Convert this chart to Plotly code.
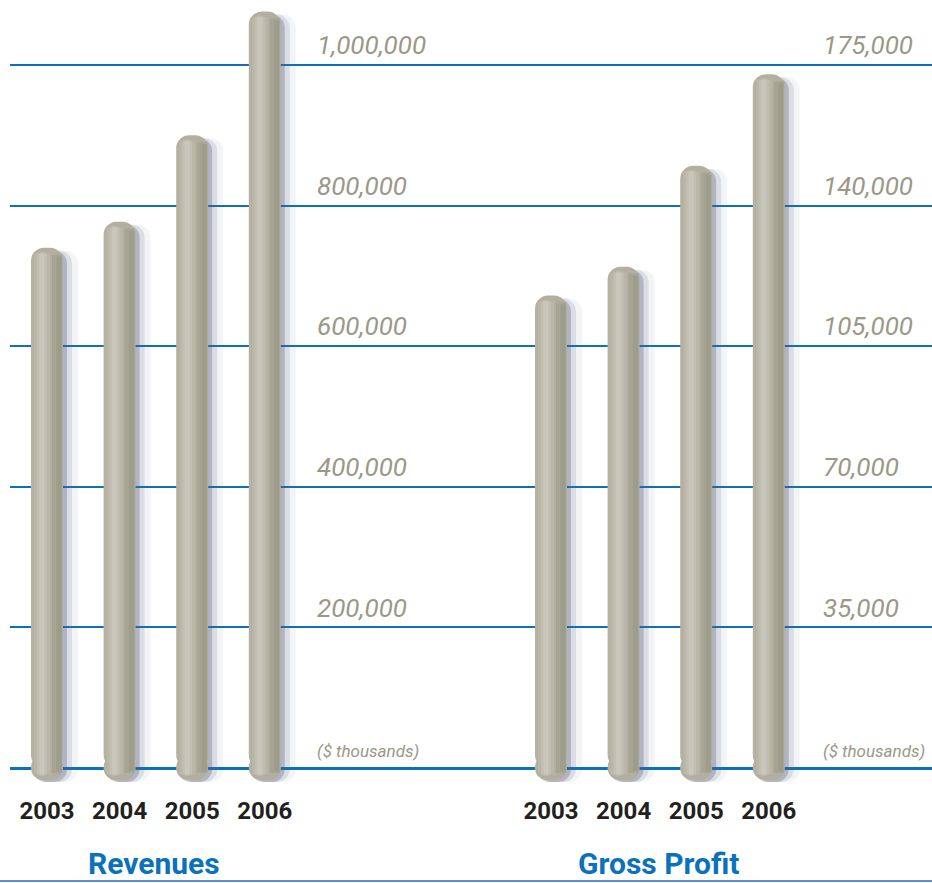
import plotly.graph_objects as go

# ---------------- data ----------------
years = ["2003", "2004", "2005", "2006"]
revenues = [740000, 777000, 900000, 1076000]
gross_profit = [117600, 124800, 149900, 172700]

rev_ticks = [0, 200000, 400000, 600000, 800000, 1000000]
rev_tick_labels = ["($ thousands)", "200,000", "400,000", "600,000", "800,000", "1,000,000"]
gp_ticks = [0, 35000, 70000, 105000, 140000, 175000]
gp_tick_labels = ["($ thousands)", "35,000", "70,000", "105,000", "140,000", "175,000"]

titles = ["Revenues", "Gross Profit"]

# ---------------- layout constants (pixels) ----------------
W, H = 932, 883
PT, PB = 4, 795          # plot area top / bottom (px)
ZERO = 768               # pixel row of zero line
TOPLINE = 65             # pixel row of top gridline
PXU = 72.6               # px per category unit
BAR_W = 32 / PXU
BELOW = 12               # bar extends below baseline (px)
RAD = 13                 # cap radius (px)
SPLIT = 470              # px boundary between panels

FONT = "Roboto, Liberation Sans, sans-serif"
GRID = "#0b72b9"
BAR_COL = "#b3af9f"
LABEL_COL = "#9a9886"
TITLE_COL = "#0a72bb"

fig = go.Figure()


def add_panel(values, top_val, xa, ya):
    k = top_val / (ZERO - TOPLINE)  # data units per px
    idx = list(range(len(values)))
    # soft shadow layers (to the right)
    for shift, grow, alpha in [(2, 2, 0.32), (4, 5, 0.15), (6, 9, 0.07)]:
        fig.add_trace(go.Bar(
            x=idx, y=[v + BELOW * k - 1 * k for v in values], base=-BELOW * k - 2 * k,
            offset=-BAR_W / 2 + shift / PXU, width=BAR_W + grow / PXU,
            marker=dict(color=f"rgba(90,95,125,{alpha})", cornerradius=RAD, line=dict(width=0)),
            xaxis=xa, yaxis=ya, hoverinfo="skip", showlegend=False))
    # rounded bottom cap
    fig.add_trace(go.Bar(
        x=idx, y=[-(RAD + BELOW) * k] * len(values), base=RAD * k,
        offset=-BAR_W / 2, width=BAR_W,
        marker=dict(color=BAR_COL, cornerradius=RAD, line=dict(width=0)),
        xaxis=xa, yaxis=ya, hoverinfo="skip", showlegend=False))
    # main bar
    fig.add_trace(go.Bar(
        x=idx, y=values, base=0,
        offset=-BAR_W / 2, width=BAR_W,
        marker=dict(color=BAR_COL, cornerradius=RAD, line=dict(width=0)),
        xaxis=xa, yaxis=ya, showlegend=False))

    # cylinder shading (highlight left-of-centre, darker right edge)
    def strip(dx_px, lw, color, inset):
        xs, ys = [], []
        for i, v in zip(idx, values):
            xs += [i + dx_px / PXU, i + dx_px / PXU, None]
            ys += [-BELOW * k + inset * k, v - inset * k, None]
        fig.add_trace(go.Scatter(
            x=xs, y=ys, mode="lines", line=dict(color=color, width=lw),
            xaxis=xa, yaxis=ya, hoverinfo="skip", showlegend=False))
    strip(-15, 2, "rgba(255,255,255,0.06)", 10)
    strip(-5, 16, "rgba(255,255,255,0.10)", 6)
    strip(-5, 10, "rgba(255,255,255,0.12)", 5)
    strip(-5, 5, "rgba(255,255,255,0.12)", 4)
    strip(10, 10, "rgba(70,65,45,0.10)", 7)
    strip(12, 5, "rgba(70,65,45,0.08)", 9)


add_panel(revenues, rev_ticks[-1], "x", "y")
add_panel(gross_profit, gp_ticks[-1], "x2", "y2")

ydom = [(H - PB) / H, (H - PT) / H]


def yrange(top_val):
    k = top_val / (ZERO - TOPLINE)
    return [-(PB - ZERO) * k, (ZERO - PT) * k]


def ytext(labels):
    out = []
    for i, t in enumerate(labels):
        out.append(f'<span style="font-size:17px">{t}</span>' if i == 0 else t)
    return out


yaxis_common = dict(
    domain=ydom, showgrid=True, gridcolor=GRID, gridwidth=2,
    zeroline=True, zerolinecolor=GRID, zerolinewidth=3,
    showline=False, ticks="", side="right", anchor="free",
    ticklabelshift=-20, ticklabelstandoff=0, automargin=False,
    tickfont=dict(family=FONT, size=26, color=LABEL_COL, style="italic", weight=400),
    fixedrange=True,
)

xaxis_common = dict(
    showgrid=False, zeroline=False, showline=False, ticks="",
    tickvals=list(range(len(years))), ticktext=years, automargin=False,
    tickfont=dict(family=FONT, size=24, color="#231f20", weight="bold"),
    ticklabelstandoff=-1, fixedrange=True,
)

fig.update_layout(
    template="none",
    width=W, height=H, margin=dict(l=0, r=0, t=0, b=0, autoexpand=False),
    paper_bgcolor="white", plot_bgcolor="white",
    barmode="overlay", showlegend=False,
    xaxis=dict(domain=[10 / W, SPLIT / W], range=[-(47 - 10) / PXU, (SPLIT - 47) / PXU],
               anchor="y", **xaxis_common),
    xaxis2=dict(domain=[SPLIT / W, 1], range=[-(551 - SPLIT) / PXU, (W - 551) / PXU],
                anchor="y2", **xaxis_common),
    yaxis=dict(range=yrange(rev_ticks[-1]), position=316 / W,
               tickvals=rev_ticks, ticktext=ytext(rev_tick_labels), **yaxis_common),
    yaxis2=dict(range=yrange(gp_ticks[-1]), position=822 / W,
                tickvals=gp_ticks, ticktext=ytext(gp_tick_labels), **yaxis_common),
    annotations=[
        dict(text=f"<b>{titles[0]}</b>", x=154 / W, y=(H - 844) / H, xref="paper", yref="paper",
             xanchor="center", yanchor="top", showarrow=False,
             font=dict(family=FONT, size=30, color=TITLE_COL)),
        dict(text=f"<b>{titles[1]}</b>", x=658 / W, y=(H - 844) / H, xref="paper", yref="paper",
             xanchor="center", yanchor="top", showarrow=False,
             font=dict(family=FONT, size=30, color=TITLE_COL)),
    ],
    shapes=[dict(type="line", xref="paper", yref="paper", x0=0, x1=1,
                 y0=(H - 881) / H, y1=(H - 881) / H,
                 line=dict(color="#5b8fcf", width=2), layer="above")],
)

fig.write_html("out.html")
